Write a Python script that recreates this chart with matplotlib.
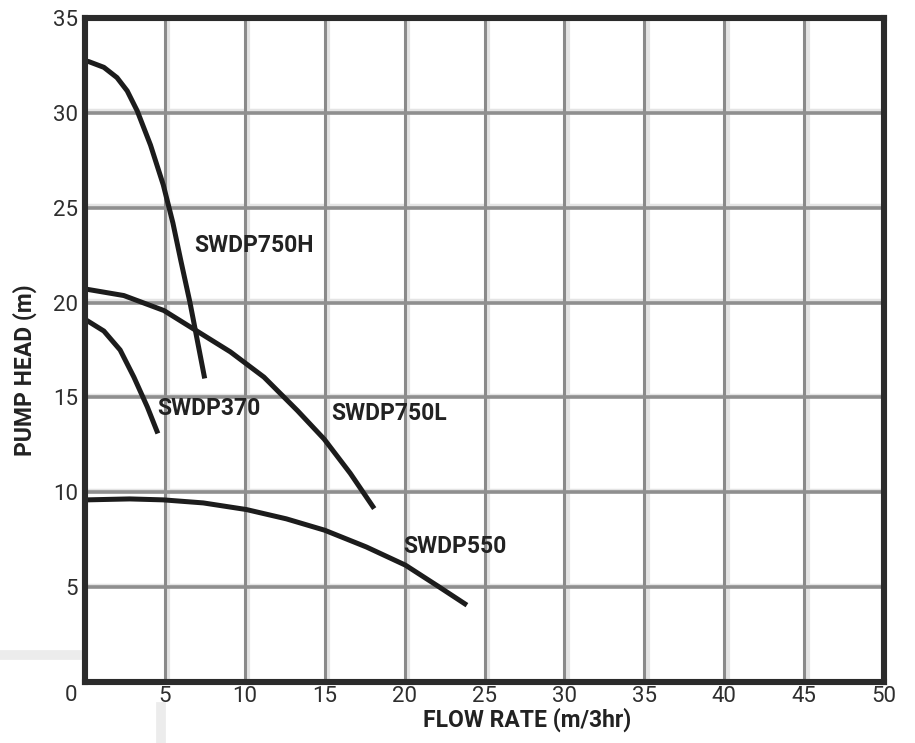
import matplotlib
matplotlib.use('Agg')
import matplotlib.pyplot as plt
from matplotlib import transforms
from matplotlib.lines import Line2D

plt.rcParams['font.family'] = ['Roboto', 'DejaVu Sans']

# pump curves: flow (m3/hr) vs head (m)
swdp750h_flow = [0, 0.24, 1.18, 2.0, 2.64, 3.27, 4.1, 4.9, 5.5, 6.0, 6.57, 7.03, 7.49]
swdp750h_head = [32.75, 32.7, 32.4, 31.86, 31.16, 30.1, 28.3, 26.2, 24.2, 22.2, 20.0, 18.0, 16.0]

swdp750l_flow = [0, 0.13, 2.43, 4.94, 7.0, 9.1, 11.2, 13.3, 14.97, 16.6, 18.1]
swdp750l_head = [20.7, 20.7, 20.37, 19.58, 18.5, 17.4, 16.07, 14.3, 12.8, 11.0, 9.14]

swdp370_flow = [0, 0.13, 1.18, 2.2, 3.06, 3.9, 4.56]
swdp370_head = [19.1, 19.05, 18.5, 17.5, 16.07, 14.5, 13.1]

swdp550_flow = [0, 0.09, 2.8, 4.9, 7.4, 10.1, 12.6, 15.0, 17.6, 20.05, 22.0, 23.9]
swdp550_head = [9.6, 9.6, 9.65, 9.6, 9.44, 9.09, 8.6, 8.0, 7.12, 6.16, 5.1, 4.05]

curves = [
    ('SWDP750H', swdp750h_flow, swdp750h_head, (6.85, 23.0)),
    ('SWDP750L', swdp750l_flow, swdp750l_head, (15.4, 14.15)),
    ('SWDP370', swdp370_flow, swdp370_head, (4.5, 14.4)),
    ('SWDP550', swdp550_flow, swdp550_head, (19.9, 7.15)),
]

x_ticks = [0, 5, 10, 15, 20, 25, 30, 35, 40, 45, 50]
y_ticks = [0, 5, 10, 15, 20, 25, 30, 35]

fig = plt.figure(figsize=(9.15, 7.43), dpi=100)
ax = fig.add_axes([85 / 915, 1 - 682 / 743, 799 / 915, 664 / 743])
ax.set_xlim(0, 50)
ax.set_ylim(0, 35)

# faint background leftovers outside the chart
fig.add_artist(Line2D([0, 78 / 915], [1 - 655 / 743] * 2, color='#ececec', lw=7, zorder=0))
fig.add_artist(Line2D([161 / 915] * 2, [0, 1 - 707 / 743], color='#ececec', lw=7, zorder=0))

# grid: grey line with a pale shadow beside it
shift_r = transforms.offset_copy(ax.transData, fig=fig, x=3.5, y=0, units='dots')
shift_u = transforms.offset_copy(ax.transData, fig=fig, x=0, y=2.5, units='dots')
for xv in x_ticks[1:-1]:
    ax.plot([xv, xv], [0, 35], color='#e4e4e4', lw=3.0, transform=shift_r, zorder=1)
    ax.plot([xv, xv], [0, 35], color='#8a8a8a', lw=2.2, zorder=2)
for yv in y_ticks[1:-1]:
    ax.plot([0, 50], [yv, yv], color='#e4e4e4', lw=2.5, transform=shift_u, zorder=1)
    ax.plot([0, 50], [yv, yv], color='#8f8f8f', lw=2.6, zorder=2)

for name, flow, head, (tx, ty) in curves:
    ax.plot(flow, head, color='#1c1c1c', lw=3.6, solid_capstyle='butt',
            solid_joinstyle='round', zorder=3)
    ax.text(tx, ty, name, fontsize=16.5, fontweight='bold', color='#222222',
            ha='left', va='center', zorder=4)

for side in ['left', 'right', 'top', 'bottom']:
    ax.spines[side].set_linewidth(4.4)
    ax.spines[side].set_color('#2b2b2b')
    ax.spines[side].set_zorder(5)

ax.set_xticks(x_ticks)
ax.set_xticklabels([''] + [str(v) for v in x_ticks[1:]])
ax.set_yticks(y_ticks)
ax.set_yticklabels([''] + [str(v) for v in y_ticks[1:]])
ax.tick_params(length=0, labelsize=16, labelcolor='#2e2e2e')
ax.tick_params(axis='x', pad=3)
ax.tick_params(axis='y', pad=5)

ax.annotate('0', xy=(0, 0), xytext=(-5.5, -2.5), textcoords='offset points',
            ha='right', va='top', fontsize=16, color='#2e2e2e')

fig.text(527 / 915, 1 - 720 / 743, 'FLOW RATE (m/3hr)', fontsize=16.5,
         fontweight='bold', color='#222222', ha='center', va='center')
fig.text(25 / 915, 1 - 370 / 743, 'PUMP HEAD (m)', fontsize=16.5,
         fontweight='bold', color='#222222', ha='center', va='center',
         rotation=90)

fig.savefig('out.png', dpi=100)
